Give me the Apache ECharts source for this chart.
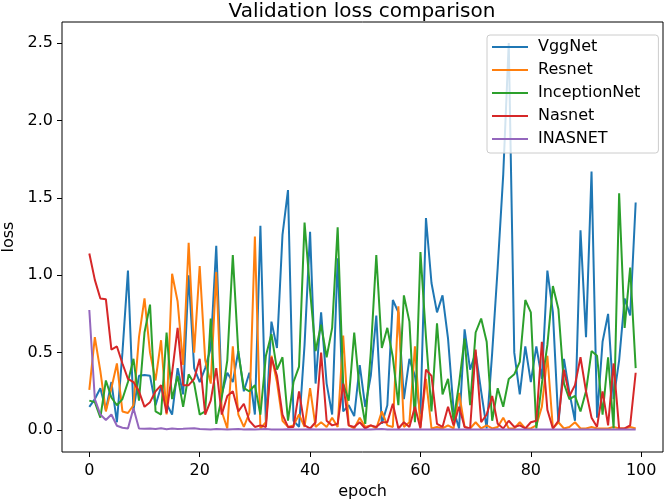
<!DOCTYPE html>
<html><head><meta charset="utf-8">
<script src="https://cdn.jsdelivr.net/npm/echarts@6/dist/echarts.min.js"></script>
<style>html,body{margin:0;padding:0;background:#fff}#c{width:666px;height:499px}</style>
</head><body><div id="c"></div>
<script>
const epochs = Array.from({length:100},(_,i)=>i);
const xTicks = [0,20,40,60,80,100];
const yTicks = [0,0.5,1.0,1.5,2.0,2.5];
const seriesNames = ['VggNet','Resnet','InceptionNet','Nasnet','INASNET'];
const vggnet = [0.15,0.2,0.27,0.13,0.31,0.05,0.5,1.03,0.13,0.35,
0.355,0.35,0.16,0.28,0.17,0.1,0.40,0.23,1.0,0.4,
0.31,0.4,0.53,1.19,0.23,0.37,0.31,0.51,0.25,0.37,
0.1,1.32,0.04,0.70,0.53,1.26,1.55,0.06,0.02,0.55,
1.28,0.30,0.76,0.3,0.1,1.11,0.12,0.16,0.09,0.42,
0.15,0.35,0.74,0.04,0.16,0.84,0.76,0.2,0.46,0.35,
0.1,1.37,0.95,0.76,0.87,0.59,0.13,0.01,0.65,0.39,
0.5,0.25,0.01,0.5,1.05,1.65,2.5,0.5,0.23,0.54,
0.31,0.54,0.33,1.03,0.76,0.04,0.46,0.24,0.06,1.29,
0.6,1.67,0.08,0.57,0.75,0.2,0.45,0.85,0.74,1.47];
const resnet = [0.26,0.60,0.38,0.12,0.27,0.43,0.12,0.11,0.16,0.6,
0.85,0.5,0.32,0.58,0.1,1.01,0.83,0.42,1.21,0.5,
1.06,0.45,0.3,1.02,0.12,0.01,0.54,0.1,0.02,0.11,
1.25,0.01,0.05,0.48,0.31,0.06,0.02,0.03,0.1,0.02,
0.27,0.02,0.05,0.02,0.08,0.02,0.61,0.03,0.01,0.08,
0.02,0.03,0.01,0.12,0.03,0.02,0.80,0.02,0.05,0.54,
0.02,0.33,0.01,0.02,0.01,0.03,0.01,0.24,0.02,0.01,
0.05,0.01,0.03,0.01,0.02,0.08,0.01,0.01,0.05,0.01,
0.01,0.03,0.15,0.48,0.01,0.05,0.01,0.02,0.05,0.01,
0.01,0.02,0.01,0.01,0.01,0.02,0.01,0.01,0.02,0.01];
const inceptionnet = [0.19,0.18,0.08,0.32,0.21,0.16,0.2,0.31,0.46,0.19,
0.63,0.81,0.12,0.1,0.63,0.2,0.35,0.15,0.36,0.3,
0.1,0.12,0.72,0.04,0.21,0.45,1.13,0.5,0.27,0.25,
0.29,0.1,0.48,0.62,0.39,0.47,0.06,0.31,0.41,1.34,
0.9,0.51,0.68,0.47,0.66,1.31,0.30,0.19,0.63,0.25,
0.04,0.5,1.13,0.53,0.66,0.47,0.16,0.87,0.70,0.05,
1.15,0.6,0.12,0.69,0.23,0.33,0.06,0.3,0.59,0.16,
0.63,0.72,0.57,0.06,0.27,0.15,0.33,0.36,0.44,0.84,
0.76,0.01,0.3,0.55,0.93,0.78,0.3,0.2,0.22,0.12,
0.25,0.51,0.48,0.1,0.47,0.01,1.53,0.66,1.05,0.40];
const nasnet = [1.14,0.97,0.85,0.845,0.52,0.54,0.43,0.33,0.31,0.25,
0.15,0.18,0.25,0.29,0.11,0.37,0.66,0.29,0.29,0.33,
0.46,0.1,0.19,0.40,0.1,0.22,0.25,0.12,0.17,0.06,
0.02,0.03,0.02,0.47,0.35,0.1,0.02,0.02,0.25,0.03,
0.01,0.05,0.5,0.06,0.03,0.04,0.30,0.03,0.02,0.05,
0.01,0.03,0.02,0.05,0.05,0.17,0.01,0.05,0.02,0.15,
0.01,0.39,0.35,0.04,0.02,0.15,0.03,0.15,0.02,0.01,
0.52,0.05,0.1,0.22,0.04,0.01,0.06,0.02,0.03,0.01,
0.05,0.06,0.57,0.13,0.01,0.06,0.39,0.22,0.29,0.47,
0.25,0.08,0.02,0.25,0.03,0.43,0.01,0.01,0.03,0.37];
const inasnet = [0.775,0.2,0.1,0.065,0.1,0.028,0.015,0.01,0.14,0.01,
0.008,0.01,0.006,0.012,0.005,0.01,0.007,0.008,0.01,0.012,
0.006,0.005,0.004,0.006,0.005,0.004,0.005,0.006,0.004,0.005,
0.004,0.005,0.006,0.004,0.003,0.004,0.005,0.004,0.003,0.004,
0.005,0.004,0.003,0.004,0.003,0.004,0.005,0.004,0.003,0.004,
0.003,0.004,0.005,0.006,0.004,0.003,0.004,0.003,0.004,0.003,
0.004,0.003,0.004,0.005,0.003,0.004,0.003,0.004,0.003,0.004,
0.003,0.004,0.003,0.004,0.005,0.003,0.004,0.003,0.004,0.003,
0.004,0.003,0.004,0.003,0.004,0.003,0.004,0.003,0.004,0.003,
0.004,0.003,0.004,0.003,0.004,0.003,0.004,0.003,0.004,0.003];
const colors = ['#1f77b4','#ff7f0e','#2ca02c','#d62728','#9467bd'];
const allData = [vggnet,resnet,inceptionnet,nasnet,inasnet];

const chart = echarts.init(document.getElementById('c'), null, {renderer:'canvas'});
const font = 'DejaVu Sans';
chart.setOption({
  animation:false,
  backgroundColor:'#fff',
  title:{text:'Validation loss comparison', left:362, top:2, padding:0, textAlign:'center',
    textStyle:{fontFamily:font, fontSize:20, fontWeight:'normal', color:'#000'}},
  grid:{left:62, right:3, top:22, bottom:47, show:true, borderColor:'#000', borderWidth:1,
    containLabel:false, outerBoundsMode:'none'},
  legend:{orient:'vertical', left:487, top:35, data:seriesNames.map(n=>({name:n, icon:'rect'})),
    itemWidth:36, itemHeight:2.2, itemGap:7,
    backgroundColor:'rgba(255,255,255,0.8)', borderColor:'#cccccc', borderWidth:1, borderRadius:3,
    padding:[4,18,6,5],
    textStyle:{fontFamily:font, fontSize:16, color:'#000', lineHeight:16, padding:[0,0,0,5]}},
  xAxis:{type:'value', min:-4.95, max:103.95, name:'epoch', nameLocation:'middle', nameGap:30,
    nameTextStyle:{fontFamily:font, fontSize:16, color:'#000'},
    axisLine:{show:false, onZero:false}, splitLine:{show:false},
    axisTick:{show:true, customValues:xTicks, length:5, lineStyle:{color:'#000'}},
    axisLabel:{customValues:xTicks, fontFamily:font, fontSize:16, color:'#000', margin:11}},
  yAxis:{type:'value', min:-0.142, max:2.636, name:'loss', nameLocation:'middle', nameGap:43,
    nameTextStyle:{fontFamily:font, fontSize:16, color:'#000'},
    axisLine:{show:false, onZero:false}, splitLine:{show:false},
    axisTick:{show:true, customValues:yTicks, length:5, lineStyle:{color:'#000'}},
    axisLabel:{customValues:yTicks, fontFamily:font, fontSize:16, color:'#000', margin:9,
      formatter:v=>v.toFixed(1)}},
  series: seriesNames.map((n,i)=>({name:n, type:'line', showSymbol:false, symbol:'none',
    color:colors[i], lineStyle:{width:2, color:colors[i]}, itemStyle:{color:colors[i]},
    data: epochs.map((e,j)=>[e, allData[i][j]])}))
});
</script></body></html>
